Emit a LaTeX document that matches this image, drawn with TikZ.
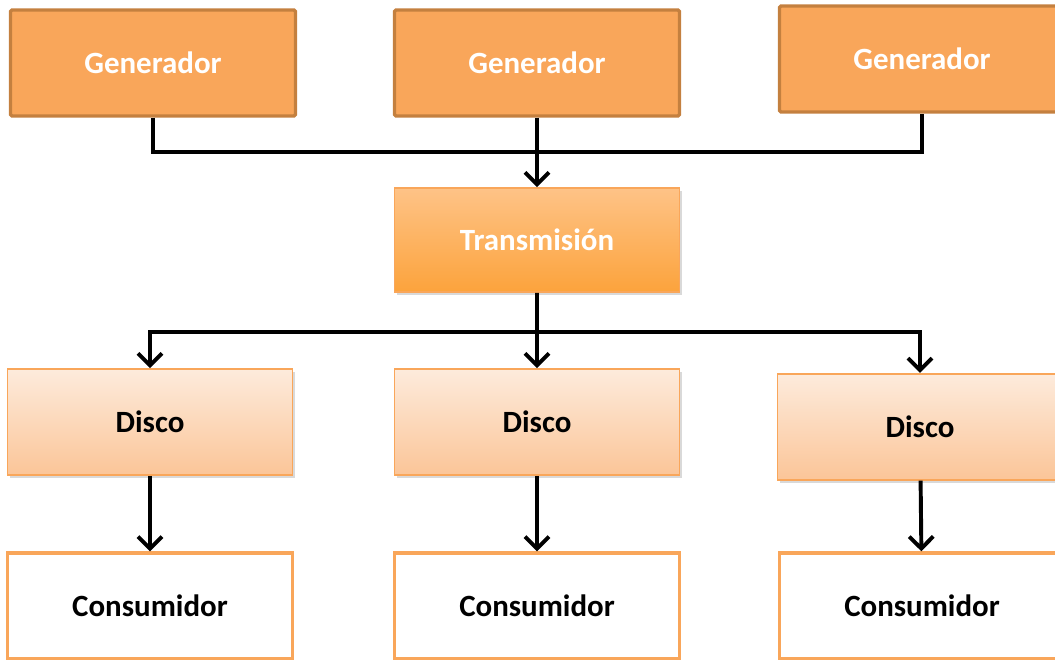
\documentclass[tikz,border=0pt]{standalone}
\usepackage{fontspec}
\setmainfont{Carlito}
\usepackage{xcolor}
\usepackage{tikz}
\usetikzlibrary{arrows.meta, calc, shadows}
\definecolor{genfill}{HTML}{F9A65A}
\definecolor{gendraw}{HTML}{C4803F}
\definecolor{transtop}{HTML}{FEC387}
\definecolor{transbot}{HTML}{FCA33C}
\definecolor{discotop}{HTML}{FDEBDC}
\definecolor{discobot}{HTML}{FBC598}
\definecolor{boxdraw}{HTML}{F9A65A}
\tikzstyle{generador} = [rectangle, rounded corners=1pt, minimum width=7.125cm, minimum height=2.65cm, text centered, draw=gendraw, line width=2.4pt, fill=genfill, text=white, font=\fontsize{22}{26}\selectfont\bfseries]
\tikzstyle{transmision} = [rectangle, minimum width=7.125cm, minimum height=2.6cm, text centered, draw=boxdraw, line width=1.2pt, top color=transtop, bottom color=transbot, text=white, font=\fontsize{22}{26}\selectfont\bfseries, drop shadow={opacity=0.3, shadow xshift=0.06cm, shadow yshift=-0.08cm}]
\tikzstyle{disco} = [rectangle, minimum width=7.125cm, minimum height=2.65cm, text centered, draw=boxdraw, line width=1.2pt, top color=discotop, bottom color=discobot, font=\fontsize{22}{26}\selectfont\bfseries, drop shadow={opacity=0.3, shadow xshift=0.06cm, shadow yshift=-0.08cm}]
\tikzstyle{consumidor} = [rectangle, minimum width=7.125cm, minimum height=2.65cm, text centered, draw=boxdraw, line width=2.4pt, fill=white, font=\fontsize{22}{26}\selectfont\bfseries]
\tikzstyle{line} = [line width=2.8pt, black]
\tikzstyle{arrow} = [line width=2.8pt, black, -{Straight Barb[length=0.3cm, width=0.6cm]}]

\begin{document}
\begin{tikzpicture}[node distance=4.5cm]
    \useasboundingbox (-3.825,1.575) rectangle (22.55,-14.9);

    \node (gen1) [generador] {Generador};
    \node (gen2) [generador, right of=gen1, xshift=5.1cm] {Generador};
    \node (gen3) [generador, right of=gen2, xshift=5.125cm, yshift=0.1cm] {Generador};
    \node (trans) [transmision, below of=gen2, yshift=0.075cm] {Transmisión};
    \node (disco2) [disco, below of=trans, yshift=-0.05cm] {Disco};
    \node (disco1) [disco, left of=disco2, xshift=-5.175cm] {Disco};
    \node (disco3) [disco, right of=disco2, xshift=5.075cm, yshift=-0.12cm] {Disco};
    \node (cons2) [consumidor, below of=disco2, yshift=-0.1cm] {Consumidor};
    \node (cons1) [consumidor, left of=cons2, xshift=-5.175cm] {Consumidor};
    \node (cons3) [consumidor, right of=cons2, xshift=5.125cm] {Consumidor};

    % buses between the rows
    \coordinate (busin) at ($(gen2.south)!0.5!(trans.north)$);
    \coordinate (busout) at ($(trans.south)!0.52!(disco2.north)$);

    \draw [line] (gen1.south) |- (busin) -| (gen3.south);
    \draw [arrow] (gen2.south) -- (trans.north);
    \draw [line] (trans.south) -- (busout);
    \draw [arrow] (busout) -| (disco1.north);
    \draw [arrow] (busout) -- (disco2.north);
    \draw [arrow] (busout) -| (disco3.north);
    \draw [arrow] (disco1) -- (cons1);
    \draw [arrow] (disco2) -- (cons2);
    \draw [arrow] (disco3) -- (cons3);
\end{tikzpicture}
\end{document}
